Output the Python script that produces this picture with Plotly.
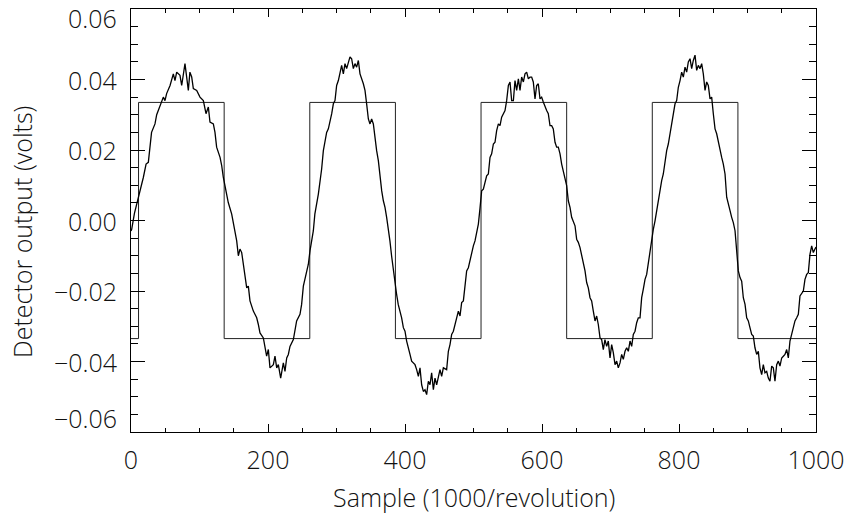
import plotly.graph_objects as go

# ---- noisy detector signal (sample, volts) ----
sample_a = [0, 1, 5, 10.7, 13, 15.6, 18, 22, 25.3, 30, 32.6, 35, 37.5, 40, 42.3, 47.2, 49.6, 52, 57, 61.8, 64.2, 66.7, 71.5, 74, 78.8, 83.7, 86, 88.6, 91, 95.9, 100.7, 105.6, 109.5, 112.9, 115.3, 120.2, 122.6, 125, 130, 132.4, 134.8, 138.7, 142, 147]
volts_a = [-0.0030, -0.0025, 0.0020, 0.0066, 0.0084, 0.0099, 0.0122, 0.0160, 0.0165, 0.0250, 0.0260, 0.0274, 0.0300, 0.0312, 0.0326, 0.0350, 0.0340, 0.0360, 0.0383, 0.0416, 0.0397, 0.0421, 0.0412, 0.0383, 0.0445, 0.0369, 0.0421, 0.0407, 0.0374, 0.0369, 0.0350, 0.0340, 0.0303, 0.0322, 0.0279, 0.0274, 0.0250, 0.0208, 0.0179, 0.0156, 0.0122, 0.0080, 0.0051, 0.0018]

sample_b = [151.8, 154.3, 156.7, 159.1, 161.6, 165, 168.9, 171.3, 173.7, 178.6, 183.5, 185.9, 188.3, 193.2, 198, 200.5, 202.9, 207.8, 210.2, 212.7, 215.1, 218.5, 222.4, 224.8, 227.3, 229.7, 232.1, 237, 239.4, 241.8, 246.7, 249.1, 251.6, 254, 256.4, 258.9, 261.3, 263.7, 266.2]
volts_b = [-0.0029, -0.0058, -0.0100, -0.0081, -0.0091, -0.0143, -0.0191, -0.0186, -0.0228, -0.0257, -0.0276, -0.0295, -0.0319, -0.0333, -0.0385, -0.0366, -0.0418, -0.0409, -0.0385, -0.0418, -0.0409, -0.0447, -0.0404, -0.0428, -0.0390, -0.0380, -0.0357, -0.0338, -0.0304, -0.0285, -0.0266, -0.0238, -0.0186, -0.0167, -0.0143, -0.0124, -0.0086, -0.0053, -0.0029]

sample_c = [268.4, 273.5, 278.3, 280.8, 285.6, 288.1, 293, 295.4, 297.8, 300.2, 302.7, 305.1, 307.5, 310, 312.4, 314.8, 319.7, 322.1, 324.6, 327, 329.4, 331.9, 334.3, 339.2, 341.6, 344, 346.5, 348.9, 351.3, 353.8, 356.2, 358.6, 361.1, 363.5, 366, 368.4, 370.8, 373.2]
volts_c = [0.0018, 0.0075, 0.0146, 0.0198, 0.0250, 0.0260, 0.0303, 0.0331, 0.0340, 0.0383, 0.0397, 0.0421, 0.0440, 0.0416, 0.0445, 0.0431, 0.0464, 0.0459, 0.0431, 0.0445, 0.0435, 0.0454, 0.0416, 0.0388, 0.0369, 0.0331, 0.0288, 0.0274, 0.0288, 0.0274, 0.0227, 0.0198, 0.0170, 0.0122, 0.0084, 0.0056, 0.0037, 0.0009]

sample_d = [375.6, 378, 380.4, 382.9, 385.3, 387.7, 390.1, 392.7, 395.1, 397.6, 400, 402.4, 404.9, 407.3, 409.7, 412.2, 414.6, 417, 419.5, 421.9, 424.3, 426.8, 429.2, 431.6, 434.1, 436.5, 438.9, 441.4, 443.8, 446.2, 448.7, 451.1, 453.5, 456, 460.8, 463.3, 465.7, 468.1, 470.6, 473, 475.4, 477.9, 480.3, 482.7, 485.2, 487.6, 490, 492.5, 494.9, 497.3, 499.8, 502.2, 504.6, 507.1]
volts_d = [-0.0020, -0.0058, -0.0100, -0.0143, -0.0172, -0.0209, -0.0238, -0.0257, -0.0276, -0.0304, -0.0314, -0.0342, -0.0366, -0.0380, -0.0399, -0.0404, -0.0409, -0.0423, -0.0442, -0.0418, -0.0466, -0.0485, -0.0480, -0.0494, -0.0456, -0.0466, -0.0432, -0.0480, -0.0447, -0.0466, -0.0447, -0.0423, -0.0442, -0.0418, -0.0423, -0.0371, -0.0352, -0.0323, -0.0314, -0.0295, -0.0281, -0.0257, -0.0271, -0.0233, -0.0228, -0.0176, -0.0143, -0.0134, -0.0110, -0.0091, -0.0072, -0.0058, -0.0029, -0.0010]

sample_e = [509.5, 511.9, 514.4, 516.8, 519.2, 521.7, 524.1, 526.5, 529, 531.4, 533.8, 536.3, 538.7, 541.1, 543.6, 546, 548.4, 550.9, 553.3, 555.7, 558.2, 560.6, 563, 565.5, 567.9, 570.3, 572.8, 575.2, 577.6, 580.1, 582.5, 584.9, 587.3, 589.8, 592.2, 594.6, 597.1, 599.5, 601.9, 604.4, 606.8, 609.2, 611.7, 614.1, 616.5, 619, 621.4, 623.8, 626.3, 628.7, 631.1, 633.6, 636, 638.4, 640.9, 643.3, 645.7, 648.2]
volts_e = [0.0035, 0.0084, 0.0089, 0.0113, 0.0127, 0.0132, 0.0179, 0.0189, 0.0217, 0.0222, 0.0255, 0.0274, 0.0269, 0.0293, 0.0303, 0.0312, 0.0340, 0.0383, 0.0393, 0.0340, 0.0340, 0.0397, 0.0369, 0.0402, 0.0369, 0.0407, 0.0393, 0.0416, 0.0421, 0.0402, 0.0407, 0.0407, 0.0393, 0.0345, 0.0383, 0.0388, 0.0345, 0.0350, 0.0336, 0.0322, 0.0312, 0.0303, 0.0269, 0.0269, 0.0260, 0.0222, 0.0208, 0.0208, 0.0189, 0.0160, 0.0141, 0.0122, 0.0099, 0.0056, 0.0037, 0.0009, -0.0001, -0.0015]

sample_f = [650.6, 653, 655.5, 657.9, 660.3, 662.8, 665.2, 667.6, 670.1, 672.5, 674.9, 677.4, 679.8, 682.2, 684.7, 687.1, 689.5, 691.9, 694.4, 696.8, 699.3, 701.7, 704.1, 706.6, 709, 711.4, 713.9, 716.3, 718.7, 721.2, 723.6, 726, 728.5, 730.9, 733.3, 735.8, 738.2, 740.6, 743.1, 745.5, 747.9, 750.4, 752.8, 755.2, 757.7, 760.1, 762.5, 765, 767.4, 770]
volts_f = [-0.0053, -0.0062, -0.0077, -0.0096, -0.0124, -0.0143, -0.0176, -0.0191, -0.0219, -0.0228, -0.0257, -0.0285, -0.0271, -0.0295, -0.0333, -0.0338, -0.0366, -0.0338, -0.0357, -0.0342, -0.0390, -0.0352, -0.0375, -0.0409, -0.0399, -0.0418, -0.0404, -0.0380, -0.0394, -0.0371, -0.0361, -0.0371, -0.0342, -0.0357, -0.0323, -0.0314, -0.0290, -0.0276, -0.0276, -0.0219, -0.0195, -0.0167, -0.0153, -0.0119, -0.0096, -0.0058, -0.0025, -0.0001, 0.0030, 0.0060]

sample_g = [772.3, 774.7, 777.1, 779.6, 782, 784.4, 786.9, 789.3, 791.7, 794.2, 796.6, 799, 801.5, 803.9, 806.3, 808.8, 811.2, 813.6, 816.1, 818.5, 820.9, 823.4, 825.8, 828.2, 830.7, 833.1, 835.5, 838, 840.4, 842.8, 845.3, 847.7, 850.1, 852.6, 855, 857.4, 859.9, 862.3, 864.7, 867.2, 869.6, 872, 874.5, 876.9, 879.3, 881.8]
volts_g = [0.0084, 0.0113, 0.0132, 0.0170, 0.0198, 0.0217, 0.0246, 0.0274, 0.0293, 0.0331, 0.0340, 0.0378, 0.0397, 0.0421, 0.0407, 0.0435, 0.0421, 0.0450, 0.0459, 0.0431, 0.0454, 0.0469, 0.0426, 0.0440, 0.0431, 0.0445, 0.0416, 0.0369, 0.0393, 0.0383, 0.0345, 0.0350, 0.0303, 0.0260, 0.0246, 0.0222, 0.0198, 0.0179, 0.0160, 0.0132, 0.0066, 0.0042, 0.0028, 0.0009, -0.0006, -0.0029]

sample_h = [884.2, 886.6, 889.1, 891.5, 893.9, 896.4, 898.8, 901.2, 903.6, 906.1, 908.5, 910.9, 913.4, 915.8, 918.2, 920.7, 923.1, 925.5, 928, 930.4, 932.8, 935.3, 937.7, 940.1, 942.6, 945, 947.4, 949.9, 952.3, 954.7, 957.2, 959.6, 962, 964.5, 966.9, 969.3, 971.8, 974.2, 976.6, 979.1, 981.5, 983.9, 986.4, 988.8, 991.2, 993.7, 996.1, 998.5, 1000]
volts_h = [-0.0077, -0.0143, -0.0162, -0.0172, -0.0219, -0.0238, -0.0276, -0.0285, -0.0304, -0.0323, -0.0328, -0.0361, -0.0380, -0.0371, -0.0418, -0.0437, -0.0409, -0.0432, -0.0428, -0.0447, -0.0456, -0.0413, -0.0418, -0.0456, -0.0409, -0.0399, -0.0413, -0.0390, -0.0385, -0.0380, -0.0366, -0.0390, -0.0342, -0.0323, -0.0304, -0.0285, -0.0276, -0.0266, -0.0214, -0.0205, -0.0200, -0.0167, -0.0153, -0.0148, -0.0096, -0.0072, -0.0091, -0.0081, -0.0075]

# ---- square reference wave ----
square_sample = [0, 11, 136, 261, 386, 511, 636, 761, 886, 1000]
square_volts = [-0.0335, 0.0335, -0.0335, 0.0335, -0.0335, 0.0335, -0.0335, 0.0335, -0.0335, -0.0335]

# ---- axes ----
x_ticks = [0, 200, 400, 600, 800, 1000]
y_ticks = [-0.06, -0.04, -0.02, 0.00, 0.02, 0.04, 0.06]
y_tick_text = ["\u22120.06", "\u22120.04", "\u22120.02", "0.00", "0.02", "0.04", "0.06"]
x_title = "Sample (1000/revolution)"
y_title = "Detector output (volts)"

samples = sample_a + sample_b + sample_c + sample_d + sample_e + sample_f + sample_g + sample_h
volts = volts_a + volts_b + volts_c + volts_d + volts_e + volts_f + volts_g + volts_h
assert len(samples) == len(volts)

FONT = dict(family="Open Sans, DejaVu Sans, sans-serif", size=25, color="#111111", weight=300)

fig = go.Figure()
fig.add_trace(go.Scatter(x=square_sample, y=square_volts, mode="lines",
                         line=dict(color="#222222", width=1, shape="hv"),
                         hoverinfo="skip", showlegend=False))
fig.add_trace(go.Scatter(x=samples, y=volts, mode="lines",
                         line=dict(color="black", width=1.3),
                         showlegend=False))

axis_common = dict(showline=True, linecolor="black", linewidth=1, mirror="allticks",
                   ticks="inside", tickcolor="black", tickwidth=1,
                   showgrid=False, zeroline=False, automargin=False)

fig.update_xaxes(range=[0, 1000], tickvals=x_ticks, ticklen=8,
                 minor=dict(dtick=50, ticks="inside", ticklen=4, tickcolor="black", showgrid=False),
                 tickfont=FONT, ticklabelstandoff=6, **axis_common)
fig.update_yaxes(range=[-0.06, 0.06], tickvals=y_ticks, ticklen=14, showticklabels=False,
                 minor=dict(dtick=0.005, ticks="inside", ticklen=7, tickcolor="black", showgrid=False),
                 **axis_common)

annotations = []
for v, t in zip(y_ticks, y_tick_text):
    shift = 0
    if v == max(y_ticks):
        shift = -9
    elif v == min(y_ticks):
        shift = 14
    annotations.append(dict(xref="paper", yref="y", x=0, y=v, text=t, showarrow=False,
                            xanchor="right", yanchor="middle", xshift=-12, yshift=shift,
                            font=FONT))
annotations.append(dict(xref="paper", yref="paper", x=0.5, y=0, text=x_title, showarrow=False,
                        xanchor="center", yanchor="middle", yshift=-65, font=FONT))
annotations.append(dict(xref="paper", yref="paper", x=0, y=0.473, text=y_title, showarrow=False,
                        textangle=-90, xanchor="center", yanchor="middle", xshift=-109,
                        font=FONT))

fig.update_layout(width=846, height=515, margin=dict(l=131, r=30, t=9, b=83),
                  plot_bgcolor="white", paper_bgcolor="white",
                  annotations=annotations)

# remove the default page margin so the figure fills the window exactly
fig.write_html("out.html", config={"displayModeBar": False},
               post_script="document.body.style.margin='0';document.body.style.overflow='hidden';")
